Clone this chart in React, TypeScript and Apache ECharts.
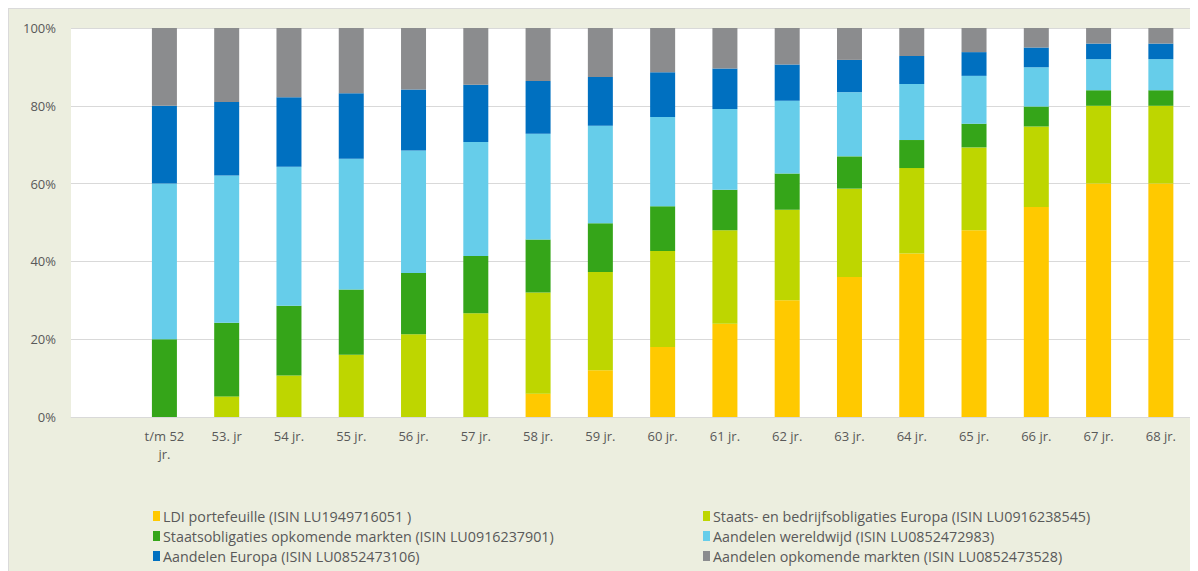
import React, { useEffect, useRef } from "react";
import * as echarts from "echarts";

const categories = ["", "t/m 52\njr.", "53. jr", "54 jr.", "55 jr.", "56 jr.", "57 jr.", "58 jr.", "59 jr.", "60 jr.", "61 jr.", "62 jr.", "63 jr.", "64 jr.", "65 jr.", "66 jr.", "67 jr.", "68 jr."];

const seriesNames = [
  "LDI portefeuille (ISIN LU1949716051 )",
  "Staats- en bedrijfsobligaties Europa (ISIN LU0916238545)",
  "Staatsobligaties opkomende markten (ISIN LU0916237901)",
  "Aandelen wereldwijd (ISIN LU0852472983)",
  "Aandelen Europa (ISIN LU0852473106)",
  "Aandelen opkomende markten (ISIN LU0852473528)",
];

const ldi = [null, 0, 0, 0, 0, 0, 0, 6, 12, 18, 24, 30, 36, 42, 48, 54, 60, 60];
const staatsBedrijf = [null, 0, 5.3, 10.7, 16, 21.3, 26.7, 26, 25.3, 24.7, 24, 23.3, 22.7, 22, 21.3, 20.7, 20, 20];
const staatsOpkomend = [null, 20, 18.9, 17.9, 16.8, 15.7, 14.7, 13.6, 12.5, 11.5, 10.4, 9.3, 8.3, 7.2, 6.1, 5.1, 4, 4];
const aandelenWereld = [null, 40, 37.9, 35.7, 33.6, 31.5, 29.3, 27.2, 25.1, 22.9, 20.8, 18.7, 16.5, 14.4, 12.3, 10.1, 8, 8];
const aandelenEuropa = [null, 20, 18.9, 17.9, 16.8, 15.7, 14.7, 13.6, 12.5, 11.5, 10.4, 9.3, 8.3, 7.2, 6.1, 5.1, 4, 4];
const aandelenOpkomend = [null, 20, 19.0, 17.8, 16.8, 15.8, 14.6, 13.6, 12.6, 11.4, 10.4, 9.4, 8.2, 7.2, 6.2, 5.0, 4, 4];

const yTicks = [0, 20, 40, 60, 80, 100];

const colors = ["#FFC900", "#BED600", "#35A519", "#66CDEA", "#0070C0", "#8B8C8E"];

export default function App() {
  const ref = useRef<HTMLDivElement>(null);
  useEffect(() => {
    if (!ref.current) return;
    const chart = echarts.init(ref.current, undefined, { renderer: "svg" });
    const data = [ldi, staatsBedrijf, staatsOpkomend, aandelenWereld, aandelenEuropa, aandelenOpkomend];
    const font = "'Open Sans', sans-serif";
    const legendText = { color: "#595959", fontSize: 14.3, fontFamily: font, lineHeight: 14, padding: [0, 0, 0, -2] };
    chart.setOption({
      animation: false,
      backgroundColor: "#ECEEDF",
      color: colors,
      grid: {
        left: 62,
        top: 19,
        width: 1121,
        height: 389,
        show: true,
        backgroundColor: "#FFFFFF",
        borderWidth: 0,
      },
      xAxis: {
        type: "category",
        data: categories,
        axisLine: { show: true, lineStyle: { color: "#D9D9D9", width: 1 } },
        axisTick: { show: false },
        axisLabel: {
          color: "#595959",
          fontSize: 13,
          fontFamily: font,
          margin: 10,
          lineHeight: 18,
          interval: 0,
        },
      },
      yAxis: {
        type: "value",
        min: yTicks[0],
        max: yTicks[yTicks.length - 1],
        interval: 20,
        axisLine: { show: false },
        axisTick: { show: false },
        splitLine: { lineStyle: { color: "#D9D9D9", width: 1 } },
        axisLabel: {
          formatter: "{value}%",
          color: "#595959",
          fontSize: 13,
          fontFamily: font,
          margin: 15,
        },
      },
      legend: [
        {
          orient: "vertical",
          left: 144,
          top: 500,
          height: 60,
          padding: 0,
          itemWidth: 7,
          itemHeight: 10,
          itemGap: 6,
          icon: "rect",
          data: [seriesNames[0], seriesNames[2], seriesNames[4]],
          textStyle: legendText,
        },
        {
          orient: "vertical",
          left: 694,
          top: 500,
          height: 60,
          padding: 0,
          itemWidth: 7,
          itemHeight: 10,
          itemGap: 6,
          icon: "rect",
          data: [seriesNames[1], seriesNames[3], seriesNames[5]],
          textStyle: legendText,
        },
      ],
      series: seriesNames.map((name, i) => ({
        name,
        type: "bar",
        stack: "total",
        barWidth: 25,
        data: data[i],
        itemStyle: { color: colors[i] },
      })),
    });
    return () => chart.dispose();
  }, []);
  return (
    <div
      style={{
        width: 1187,
        height: 562,
        borderTop: "1px solid #DADADA",
        borderLeft: "1px solid #DADADA",
      }}
    >
      <div ref={ref} style={{ width: 1187, height: 562 }} />
    </div>
  );
}
